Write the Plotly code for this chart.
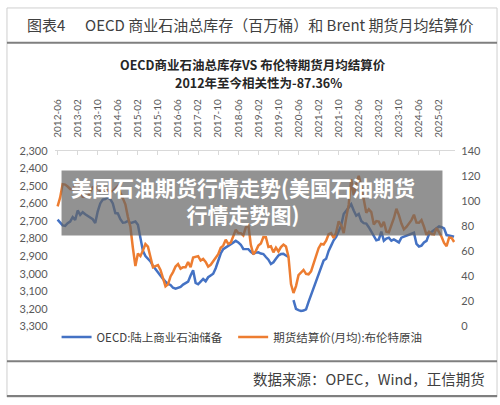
import pandas as pd
import plotly.graph_objects as go

# ---------------- data ----------------
months = list(pd.date_range("2012-06-01", periods=159, freq="MS").strftime("%Y-%m"))

tick_labels = ["2012-06", "2013-02", "2013-10", "2014-06", "2015-02", "2015-10",
               "2016-06", "2017-02", "2017-10", "2018-06", "2019-02", "2019-10",
               "2020-06", "2021-02", "2021-10", "2022-06", "2023-02", "2023-10",
               "2024-06", "2025-02"]

oecd_stocks = [
    2692, 2708, 2725, 2728, 2712, 2703, 2678, 2694, 2640, 2665,
    2650, 2662, 2672, 2685, 2690, 2712, 2645, 2600, 2578, 2575,
    2566, 2576, 2600, 2655, 2657, 2690, 2710, 2708, 2700, 2712,
    2706, 2703, 2722, 2790, 2870, 2900, 2914, 2930, 2955, 2975,
    2995, 3012, 3030, 3045, 3058, 3064, 3080, 3085, 3078, 3075,
    3062, 3055, 3045, 3010, 2980, 3052, 3060, 3045, 3030, 3043,
    3020, 3010, 3000, 2969, 2920, 2885, 2860, 2850, 2840, 2830,
    2820, 2813, 2822, 2835, 2859, 2860, 2860, 2875, 2887, 2880,
    2878, 2885, 2888, 2905, 2920, 2945, 2935, 2915, 2896, 2888,
    2887, 2896, 2905, None, 3150, 3200, 3207, 3212, 3210, 3203,
    3160, 3120, 3075, 3040, 2995, 2960, 2925, 2915, 2870, 2840,
    2810, 2790, 2755, 2725, 2660, 2640, 2625, 2605, 2640, 2670,
    2660, 2700, 2712, 2715, 2735, 2760, 2785, 2810, 2805, 2760,
    2812, 2800, 2795, 2812, 2805, 2815, 2822, 2795, 2790, 2786,
    2780, 2775, 2767, 2830, 2845, 2840, 2822, 2813, 2775, 2762,
    2750, 2740, 2731, 2735, 2742, 2780, 2784, 2786, 2789]

brent = [
    95.6, 102.6, 113.4, 113.0, 111.5, 109.5, 109.2,
    112.3, 116.1, 109.5, 103.3, 103.3, 103.3, 107.7, 110.9, 111.2, 109.5, 108.1, 110.7,
    107.4, 108.8, 107.7, 107.8, 109.7, 111.9, 106.8, 101.6, 97.3, 87.3, 79.4, 62.5,
    48.1, 58.1, 56.0, 60.5, 65.6, 63.6, 56.5, 47.2, 48.0, 48.8, 45.0, 38.0,
    31.9, 33.5, 39.8, 43.3, 47.7, 49.7, 46.0, 47.2, 47.2, 51.4, 47.1, 54.9,
    55.5, 56.0, 52.5, 53.8, 51.4, 47.6, 49.1, 51.9, 55.2, 57.5, 62.7, 64.4,
    69.1, 65.7, 66.7, 71.8, 77.0, 74.4, 74.3, 72.5, 78.9, 81.0, 65.0, 57.4,
    60.2, 64.4, 66.1, 71.2, 71.1, 63.3, 63.9, 59.0, 62.8, 59.7, 63.2, 65.2,
    63.7, 55.5, 33.7, 26.6, 32.1, 40.8, 43.2, 45.0, 41.9, 41.5, 43.9, 50.2,
    55.3, 62.3, 65.8, 65.3, 68.3, 73.4, 74.3, 70.5, 74.9, 83.7, 80.8, 74.3,
    86.5, 97.0, 117.3, 104.6, 113.3, 120.0, 111.9, 100.5, 90.6, 93.3, 91.1, 81.3,
    83.9, 83.5, 79.2, 83.4, 75.5, 75.0, 80.1, 86.2, 93.7, 88.7, 82.0, 77.3,
    79.2, 81.7, 84.7, 89.0, 82.7, 82.6, 84.8, 79.4, 73.0, 75.4, 73.6, 73.4,
    78.4, 75.1, 71.5, 66.5, 64.0, 70.8, 70.5, 67.3]

name_oecd = "OECD:陆上商业石油储备"
name_brent = "期货结算价(月均):布伦特原油"

# ---------------- figure ----------------
W, H = 500, 405
def px(x):
    return x / W
def py(y):
    return 1 - y / H

CJK = "Noto Sans CJK SC"
NUM = "Lato, " + CJK
TXT = "#595959"

fig = go.Figure()
fig.add_trace(go.Scatter(x=months, y=oecd_stocks, name=name_oecd, mode="lines",
                         line=dict(color="#4472C4", width=2.5), connectgaps=False,
                         yaxis="y", legend="legend"))
fig.add_trace(go.Scatter(x=months, y=brent, name=name_brent, mode="lines",
                         line=dict(color="#ED7D31", width=2.5), yaxis="y2",
                         legend="legend2"))

leg_common = dict(orientation="h", xanchor="left", yanchor="middle", y=py(341),
                  font=dict(family=CJK, size=11.5, color="#404040"),
                  bgcolor="rgba(0,0,0,0)")

fig.update_layout(
    width=W, height=H,
    margin=dict(l=0, r=0, t=0, b=0),
    paper_bgcolor="white", plot_bgcolor="white",
    showlegend=True,
    legend=dict(x=px(53), **leg_common),
    legend2=dict(x=px(231), **leg_common),
    xaxis=dict(type="category", domain=[px(51), px(455)], range=[-1.2, 158.5],
               side="top", anchor="y", showline=True, linecolor="#d9d9d9", linewidth=1,
               ticks="inside", ticklen=4, tickcolor="#d9d9d9",
               tickvals=tick_labels, ticktext=tick_labels, tickangle=-90,
               tickfont=dict(family=NUM, size=10, color=TXT),
               ticklabelstandoff=10, showgrid=False, zeroline=False),
    yaxis=dict(domain=[py(330), py(148.5)], range=[3300, 2300], dtick=100,
               tickformat=",", showgrid=False, zeroline=False, showline=False,
               tickfont=dict(family=NUM, size=11, color=TXT), ticks="",
               ticklabelstandoff=6),
    yaxis2=dict(overlaying="y", side="right", anchor="x", range=[0, 140], dtick=20,
                showgrid=False, zeroline=False, showline=False,
                tickfont=dict(family=NUM, size=11, color=TXT), ticks="",
                ticklabelstandoff=5),
)

shapes = [
    dict(type="rect", xref="paper", yref="paper", x0=px(3), x1=px(497), y0=py(403), y1=py(1),
         line=dict(color="#cfcfcf", width=1), fillcolor="rgba(0,0,0,0)"),
    dict(type="line", xref="paper", yref="paper", x0=px(3), x1=px(497), y0=py(37), y1=py(37),
         line=dict(color="#7f7f7f", width=2)),
    dict(type="line", xref="paper", yref="paper", x0=px(3), x1=px(497), y0=py(366), y1=py(366),
         line=dict(color="#7f7f7f", width=2)),
    dict(type="line", xref="paper", yref="paper", x0=px(3), x1=px(497), y0=py(402), y1=py(402),
         line=dict(color="#7f7f7f", width=2)),
    dict(type="rect", xref="paper", yref="paper", x0=px(58), x1=px(442), y0=py(236), y1=py(169),
         line=dict(width=0), fillcolor="rgba(100,100,100,0.7)", layer="above"),
]
fig.update_layout(shapes=shapes)

ann = [
    dict(text="图表4", x=px(21), y=py(18), xanchor="left", yanchor="middle",
         font=dict(family=CJK, size=15, color="#404040")),
    dict(text="OECD 商业石油总库存（百万桶）和 Brent 期货月均结算价", x=px(80), y=py(18),
         xanchor="left", yanchor="middle", font=dict(family=CJK, size=15, color="#404040")),
    dict(text="<b>OECD商业石油总库存VS 布伦特期货月均结算价</b>", x=px(251), y=py(59.5),
         xanchor="center", yanchor="middle", font=dict(family=CJK, size=12.5, color="#262626")),
    dict(text="<b>2012年至今相关性为-87.36%</b>", x=px(257), y=py(78.5),
         xanchor="center", yanchor="middle", font=dict(family=CJK, size=12.5, color="#262626")),
    dict(text="数据来源：OPEC，Wind，正信期货", x=px(487), y=py(384),
         xanchor="right", yanchor="middle", font=dict(family=CJK, size=14.5, color="#404040")),
    dict(text="<b>美国石油期货行情走势(美国石油期货<br>行情走势图)</b>", x=px(241), y=py(199.5),
         xanchor="center", yanchor="middle", align="center",
         font=dict(family=CJK, size=21, color="white")),
]
for a in ann:
    a.update(xref="paper", yref="paper", showarrow=False)
fig.update_layout(annotations=ann)

fig.write_html("out.html")
